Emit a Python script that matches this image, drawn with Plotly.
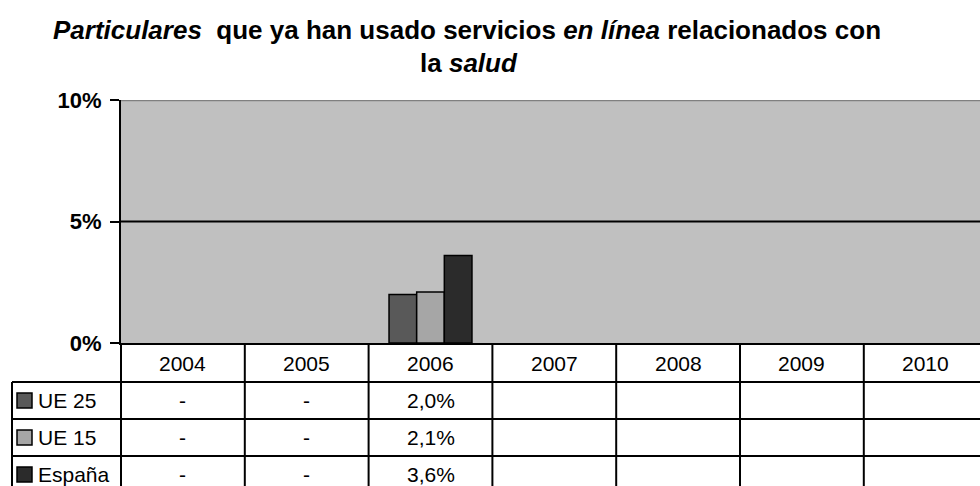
import plotly.graph_objects as go

# ---- data ----
years = ["2004", "2005", "2006", "2007", "2008", "2009", "2010"]
series_names = ["UE 25", "UE 15", "España"]
ue25 = [None, None, 2.0, None, None, None, None]
ue15 = [None, None, 2.1, None, None, None, None]
espana = [None, None, 3.6, None, None, None, None]
dash_years = ["2004", "2005"]   # shown as "-" in the table
ytick_vals = [0, 5, 10]
ytick_text = ["0%", "5%", "10%"]
colors = ["#595959", "#A6A6A6", "#2B2B2B"]

series_values = [ue25, ue15, espana]

# ---- layout geometry (pixels) ----
W, H = 980, 486
x0 = 121.0          # left edge of plot area
cw = 123.8          # column width
y_top, y_zero = 100.0, 343.0
row_lines = [382.0, 419.0, 456.0]
row_h = 37.0
tbl_left = 12.0
FONT = "Liberation Sans, Arial, sans-serif"
TS = 21  # table font size


def px(x):
    return x / W


def py(y):
    return 1 - y / H


fig = go.Figure()
idx = list(range(len(years)))
for name, vals, col in zip(series_names, series_values, colors):
    fig.add_trace(go.Bar(
        x=idx, y=vals, name=name,
        marker=dict(color=col, line=dict(color="black", width=1.5)),
        showlegend=False, hoverinfo="skip",
    ))

shapes = []
# gridline at 5% and top border at 10%
shapes.append(dict(type="line", xref="paper", yref="y", x0=px(x0), x1=1, y0=5, y1=5,
                   line=dict(color="black", width=2), layer="below"))
shapes.append(dict(type="line", xref="paper", yref="y", x0=px(x0), x1=1, y0=10, y1=10,
                   line=dict(color="#808080", width=2.5), layer="below"))

# table vertical lines
for k in range(len(years) + 1):
    xx = x0 + k * cw
    if xx > W + 5:
        continue
    shapes.append(dict(type="line", xref="paper", yref="paper", x0=px(xx), x1=px(xx),
                       y0=py(y_zero), y1=py(H + 5), line=dict(color="black", width=2)))
# table left border
shapes.append(dict(type="line", xref="paper", yref="paper", x0=px(tbl_left), x1=px(tbl_left),
                   y0=py(row_lines[0]), y1=py(H + 5), line=dict(color="black", width=2)))
# horizontal table lines
for yy in row_lines:
    shapes.append(dict(type="line", xref="paper", yref="paper", x0=px(tbl_left), x1=1,
                       y0=py(yy), y1=py(yy), line=dict(color="black", width=2)))

annotations = []
# title
annotations.append(dict(
    text="<b><i>Particulares</i>  que ya han usado servicios <i>en línea</i> relacionados con</b>",
    xref="paper", yref="paper", x=px(467), y=py(30), xanchor="center", yanchor="middle",
    showarrow=False, font=dict(family=FONT, size=26, color="black")))
annotations.append(dict(
    text="<b>la <i>salud</i></b>",
    xref="paper", yref="paper", x=px(469), y=py(63), xanchor="center", yanchor="middle",
    showarrow=False, font=dict(family=FONT, size=26, color="black")))

# header years
for k, yr in enumerate(years):
    annotations.append(dict(text=yr, xref="paper", yref="paper",
                            x=px(x0 + (k + 0.5) * cw), y=py((y_zero + row_lines[0]) / 2 + 0.5),
                            xanchor="center", yanchor="middle", showarrow=False,
                            font=dict(family=FONT, size=TS, color="black")))

# rows
for r, (name, vals, col) in enumerate(zip(series_names, series_values, colors)):
    yc = row_lines[r] + row_h / 2
    shapes.append(dict(type="rect", xref="paper", yref="paper",
                       x0=px(17), x1=px(32), y0=py(yc - 7.5), y1=py(yc + 7.5),
                       fillcolor=col, line=dict(color="black", width=1.5)))
    annotations.append(dict(text=name, xref="paper", yref="paper", x=px(36), y=py(yc),
                            xanchor="left", yanchor="middle", showarrow=False,
                            font=dict(family=FONT, size=TS, color="black")))
    for k, (yr, v) in enumerate(zip(years, vals)):
        if v is not None:
            txt = f"{v:.1f}".replace(".", ",") + "%"
        elif yr in dash_years:
            txt = "-"
        else:
            continue
        annotations.append(dict(text=txt, xref="paper", yref="paper",
                                x=px(x0 + (k + 0.5) * cw), y=py(yc),
                                xanchor="center", yanchor="middle", showarrow=False,
                                font=dict(family=FONT, size=TS, color="black")))

fig.update_layout(
    width=W, height=H,
    margin=dict(l=0, r=0, t=0, b=0, pad=0, autoexpand=False),
    paper_bgcolor="white", plot_bgcolor="#C0C0C0",
    barmode="group", bargap=0.33, bargroupgap=0,
    xaxis=dict(domain=[px(x0), 1], range=[-0.5, -0.5 + (W - x0) / cw],
               automargin=False,
               showticklabels=False, ticks="", showgrid=False, zeroline=False,
               showline=True, linecolor="black", linewidth=2, fixedrange=True),
    yaxis=dict(domain=[py(y_zero), py(y_top)], range=[0, 10],
               automargin=False,
               tickvals=ytick_vals, ticktext=ytick_text,
               ticks="outside", ticklen=9, tickwidth=2, tickcolor="black",
               ticklabelstandoff=4,
               tickfont=dict(family=FONT, size=22, color="black", weight="bold"),
               showgrid=False, zeroline=False,
               showline=True, linecolor="black", linewidth=2, fixedrange=True),
    shapes=shapes, annotations=annotations,
)

fig.write_html(
    "out.html",
    config={"displayModeBar": False},
    post_script="document.body.style.margin='0';document.body.style.overflow='hidden';",
)
